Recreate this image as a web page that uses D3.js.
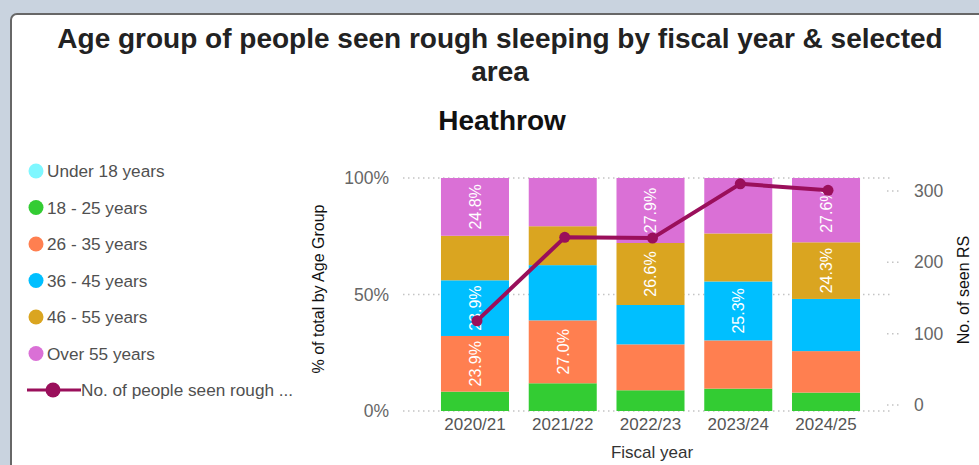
<!DOCTYPE html>
<html>
<head>
<meta charset="utf-8">
<script src="https://cdn.jsdelivr.net/npm/d3@7"></script>
<style>
  html, body { margin: 0; padding: 0; background: #c9d3df; }
  svg { display: block; font-family: "Liberation Sans", Arial, sans-serif; }
</style>
</head>
<body>
<svg id="chart" width="979" height="465"></svg>
<script>
// ---- data ----
const years = ["2020/21", "2021/22", "2022/23", "2023/24", "2024/25"];
const ageGroups = ["Under 18 years", "18 - 25 years", "26 - 35 years", "36 - 45 years", "46 - 55 years", "Over 55 years"];
const under18 = [0, 0, 0, 0, 0];
const age18to25 = [8.3, 11.9, 8.9, 9.6, 7.9];
const age26to35 = [23.9, 27.0, 19.7, 20.7, 17.8];
const age36to45 = [23.9, 23.7, 16.9, 25.3, 22.4];
const age46to55 = [19.1, 16.7, 26.6, 20.6, 24.3];
const over55 = [24.8, 20.7, 27.9, 23.8, 27.6];
const peopleSeen = [118, 235, 234, 310, 301];
const leftTicks = [0, 0.5, 1];
const rightTicks = [0, 100, 200, 300];
const lineLabel = "No. of people seen rough ...";
const colors = ["#7ff7ff", "#33cc33", "#ff7f50", "#00bfff", "#daa520", "#da70d6"];
const lineColor = "#9a0f5b";

const series = [under18, age18to25, age26to35, age36to45, age46to55, over55];
const rows = years.map((y, i) => {
  const r = { year: y };
  ageGroups.forEach((g, k) => r[g] = series[k][i]);
  return r;
});

const svg = d3.select("#chart");

// panel
svg.append("rect").attr("x", 0).attr("y", 0).attr("width", 979).attr("height", 465).attr("fill", "#c9d3df");
svg.append("rect").attr("x", 11).attr("y", 14).attr("width", 1000).attr("height", 500)
  .attr("rx", 6).attr("fill", "#fff").attr("stroke", "#676767").attr("stroke-width", 2);

// titles
svg.append("text").attr("x", 500).attr("y", 48).attr("text-anchor", "middle")
  .attr("font-size", 28).attr("font-weight", "bold").attr("fill", "#222")
  .text("Age group of people seen rough sleeping by fiscal year & selected");
svg.append("text").attr("x", 500).attr("y", 81).attr("text-anchor", "middle")
  .attr("font-size", 28).attr("font-weight", "bold").attr("fill", "#222")
  .text("area");
svg.append("text").attr("x", 502).attr("y", 130).attr("text-anchor", "middle")
  .attr("font-size", 28).attr("font-weight", "bold").attr("fill", "#111")
  .text("Heathrow");

// scales
const x = d3.scaleBand().domain(years).range([431.1, 869.9]).paddingInner(0.225).paddingOuter(0.1125);
const y = d3.scaleLinear().domain([0, 100]).range([411, 178]);
const y2 = d3.scaleLinear().domain([0, 300]).range([405, 191]);

// gridlines
const grid = svg.append("g");
grid.selectAll("line").data(leftTicks).join("line")
  .attr("x1", 403).attr("x2", 893)
  .attr("y1", d => y(d * 100)).attr("y2", d => y(d * 100))
  .attr("stroke", "#c4c4c4").attr("stroke-width", 1.5).attr("stroke-dasharray", "1.5,3.5");
grid.selectAll("line.r").data(rightTicks).join("line").attr("class", "r")
  .attr("x1", 887).attr("x2", 899)
  .attr("y1", d => y2(d)).attr("y2", d => y2(d))
  .attr("stroke", "#c4c4c4").attr("stroke-width", 1.5).attr("stroke-dasharray", "1.5,3.5");

// stacked bars
const stack = d3.stack().keys(ageGroups)(rows);
const layers = svg.append("g").selectAll("g").data(stack).join("g")
  .attr("fill", (d, i) => colors[i]);
layers.selectAll("rect").data(d => d).join("rect")
  .attr("x", d => x(d.data.year))
  .attr("width", x.bandwidth())
  .attr("y", d => y(d[1]))
  .attr("height", d => Math.max(0, y(d[0]) - y(d[1])));

// data labels
const labelG = svg.append("g");
stack.forEach(layer => {
  layer.forEach(d => {
    const v = d[1] - d[0];
    if (v >= 23.85) {
      const cx = x(d.data.year) + x.bandwidth() / 2;
      const cy = (y(d[0]) + y(d[1])) / 2;
      labelG.append("text")
        .attr("transform", `translate(${cx},${cy}) rotate(-90)`)
        .attr("text-anchor", "middle").attr("dy", "0.36em")
        .attr("font-size", 16).attr("fill", "#fff")
        .text(v.toFixed(1) + "%");
    }
  });
});

// line
const lineData = years.map((yr, i) => ({ year: yr, v: peopleSeen[i] }));
svg.append("path").datum(lineData)
  .attr("fill", "none").attr("stroke", lineColor).attr("stroke-width", 4)
  .attr("stroke-linejoin", "round")
  .attr("d", d3.line().x(d => x(d.year) + x.bandwidth() / 2 + 2).y(d => y2(d.v)));
svg.append("g").selectAll("circle").data(lineData).join("circle")
  .attr("cx", d => x(d.year) + x.bandwidth() / 2 + 2).attr("cy", d => y2(d.v))
  .attr("r", 5.5).attr("fill", lineColor);

// left axis
const la = svg.append("g").attr("transform", "translate(389,0)")
  .call(d3.axisLeft(y).tickValues(leftTicks.map(t => t * 100)).tickFormat(d => d + "%").tickSize(0).tickPadding(0));
la.select(".domain").remove();
la.selectAll("text").attr("font-size", 17.5).attr("fill", "#666").attr("font-family", "Liberation Sans, Arial, sans-serif");

// right axis
const ra = svg.append("g").attr("transform", "translate(914,0)")
  .call(d3.axisRight(y2).tickValues(rightTicks).tickFormat(d3.format("d")).tickSize(0).tickPadding(0));
ra.select(".domain").remove();
ra.selectAll("text").attr("font-size", 17.5).attr("fill", "#666").attr("font-family", "Liberation Sans, Arial, sans-serif");

// x axis
const xa = svg.append("g").attr("transform", "translate(0,418)")
  .call(d3.axisBottom(x).tickSize(0).tickPadding(0));
xa.select(".domain").remove();
xa.selectAll("text").attr("font-size", 17).attr("fill", "#555").attr("dy", "0.71em")
  .attr("font-family", "Liberation Sans, Arial, sans-serif");

// axis titles
svg.append("text").attr("x", 652).attr("y", 458).attr("text-anchor", "middle")
  .attr("font-size", 17).attr("fill", "#333").text("Fiscal year");
svg.append("text").attr("transform", "translate(324,289) rotate(-90)").attr("text-anchor", "middle")
  .attr("font-size", 16).attr("fill", "#111").text("% of total by Age Group");
svg.append("text").attr("transform", "translate(969,290) rotate(-90)").attr("text-anchor", "middle")
  .attr("font-size", 16).attr("fill", "#111").text("No. of seen RS");

// legend
const legend = svg.append("g");
const legY = d3.scalePoint().domain([...ageGroups, lineLabel]).range([171, 390]);
ageGroups.forEach((g, i) => {
  legend.append("circle").attr("cx", 36).attr("cy", legY(g)).attr("r", 7.5).attr("fill", colors[i]);
  legend.append("text").attr("x", 47).attr("y", legY(g)).attr("dy", "0.36em")
    .attr("font-size", 17.2).attr("fill", "#505050").text(g);
});
legend.append("line").attr("x1", 27).attr("x2", 81).attr("y1", legY(lineLabel)).attr("y2", legY(lineLabel))
  .attr("stroke", lineColor).attr("stroke-width", 3);
legend.append("circle").attr("cx", 53).attr("cy", legY(lineLabel)).attr("r", 7.5).attr("fill", lineColor);
legend.append("text").attr("x", 81).attr("y", legY(lineLabel)).attr("dy", "0.36em")
  .attr("font-size", 17.2).attr("fill", "#505050").text(lineLabel);
</script>
</body>
</html>
